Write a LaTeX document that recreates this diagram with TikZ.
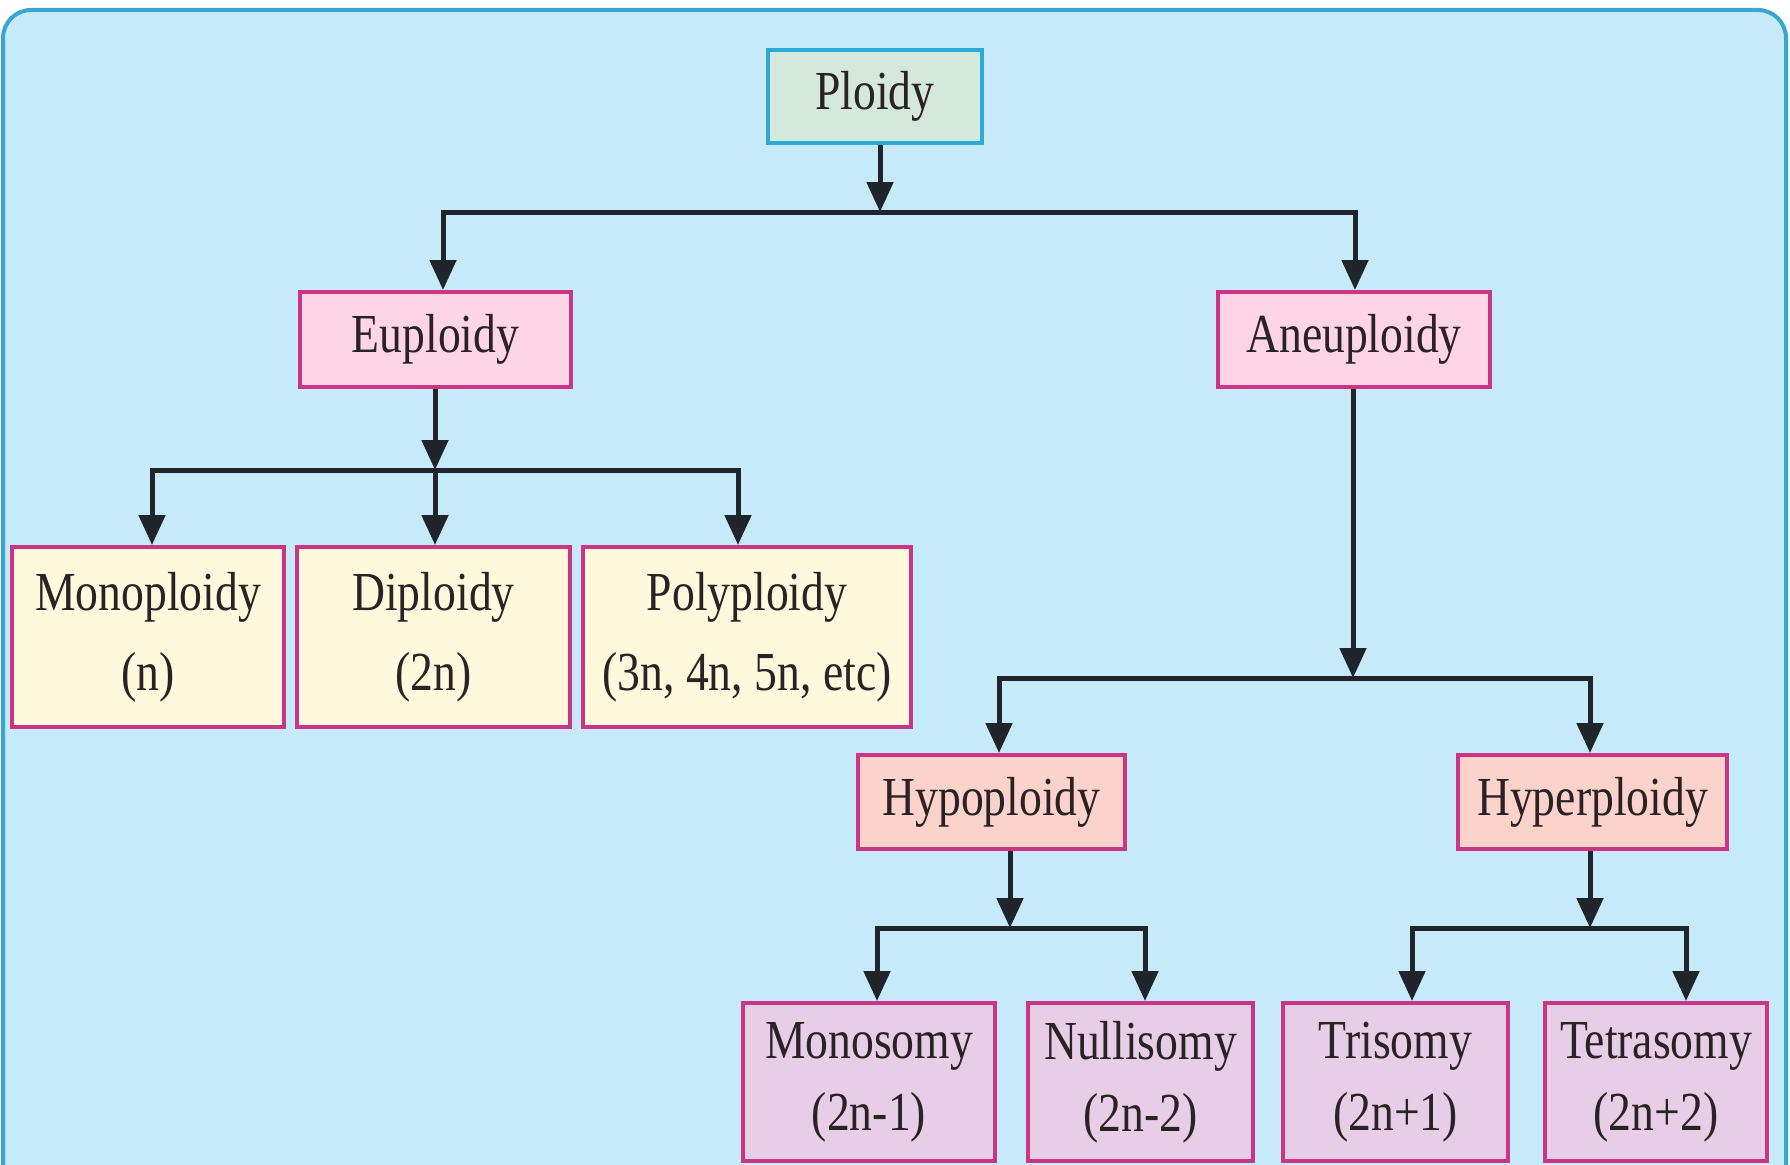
\documentclass[tikz,border=0pt]{standalone}
\usepackage{fontspec}
\setmainfont[FakeStretch=0.83]{Liberation Serif}
\usetikzlibrary{arrows.meta}

\definecolor{bgblue}{HTML}{C6EAFA}
\definecolor{frameblue}{HTML}{3AA6D0}
\definecolor{ploidyfill}{HTML}{D5E8DC}
\definecolor{ploidyline}{HTML}{2BAAD6}
\definecolor{magline}{HTML}{CC3584}
\definecolor{pinkfill}{HTML}{FDD5E7}
\definecolor{creamfill}{HTML}{FFF8DC}
\definecolor{salmonfill}{HTML}{FBD3CB}
\definecolor{lilacfill}{HTML}{E8CDE6}
\definecolor{linkdark}{HTML}{1F252B}
\definecolor{inkdark}{HTML}{2A2224}

\begin{document}
\begin{tikzpicture}[x=1pt, y=-1pt,
  box/.style={draw=magline, line width=4pt, inner sep=0pt, text=inkdark,
    font=\fontsize{55pt}{80pt}\selectfont, align=center},
  lowbox/.style={box, fill=lilacfill, minimum height=158pt,
    font=\fontsize{55pt}{72pt}\selectfont},
  link/.style={draw=linkdark, line width=5pt},
  tip/.tip={Triangle[length=30pt, width=26pt]},
  arr/.style={link, -tip},
  arrs/.style={link, tip-tip}]
  \useasboundingbox (0,0) rectangle (1790,1164);
  \clip (0,0) rectangle (1790,1164);
  \fill [white] (0,0) rectangle (1790,1164);
  \draw [frameblue, fill=bgblue, line width=4pt, rounded corners=28pt] (3,10) rectangle (1786,1230);

  \node [box, draw=ploidyline, fill=ploidyfill, minimum width=214pt, minimum height=93pt] (ploidy) at (875,96.5) {Ploidy};
  \node [box, fill=pinkfill, minimum width=271pt, minimum height=95pt] (eu) at (435.5,339.5) {Euploidy};
  \node [box, fill=pinkfill, minimum width=272pt, minimum height=95pt] (aneu) at (1354,339.5) {Aneuploidy};
  \node [box, fill=creamfill, minimum width=272pt, minimum height=180pt] (mono) at (148,637) {Monoploidy\\(n)};
  \node [box, fill=creamfill, minimum width=273pt, minimum height=180pt] (di) at (433.5,637) {Diploidy\\(2n)};
  \node [box, fill=creamfill, minimum width=328pt, minimum height=180pt] (poly) at (747,637) {Polyploidy\\(3n, 4n, 5n, etc)};
  \node [box, fill=salmonfill, minimum width=267pt, minimum height=94pt] (hypo) at (991.5,802) {Hypoploidy};
  \node [box, fill=salmonfill, minimum width=269pt, minimum height=94pt] (hyper) at (1592.5,802) {Hyperploidy};
  \node [lowbox, minimum width=252pt] (monos) at (869,1082) {Monosomy\\(2n-1)};
  \node [lowbox, minimum width=225pt] (nullis) at (1140.5,1082) {Nullisomy\\(2n-2)};
  \node [lowbox, minimum width=225pt] (tris) at (1395.5,1082) {Trisomy\\(2n+1)};
  \node [lowbox, minimum width=222pt] (tetras) at (1656,1082) {Tetrasomy\\(2n+2)};

  \foreach \p/\jx/\by/\lx/\rx/\a/\b in {ploidy/880/212/443/1355/eu/aneu,
      aneu/1353/678/999/1590/hypo/hyper, hypo/1010/928/877/1145/monos/nullis,
      hyper/1590/928/1412/1686/tris/tetras}
  {\draw [arr] (\p.south -| \jx,0) -- (\jx,\by);
   \draw [arrs] (\a.north -| \lx,0) -- (\lx,\by) -- (\rx,\by) -- (\b.north -| \rx,0);}

  \coordinate (eujoin) at (435,470);
  \draw [arr] (eu.south -| eujoin) -- (eujoin);
  \draw [arrs] (mono.north -| 152,0) -- (152,470) -- (738,470) -- (poly.north -| 738,0);
  \draw [arr] (eujoin) -- (di.north -| eujoin);
\end{tikzpicture}
\end{document}
